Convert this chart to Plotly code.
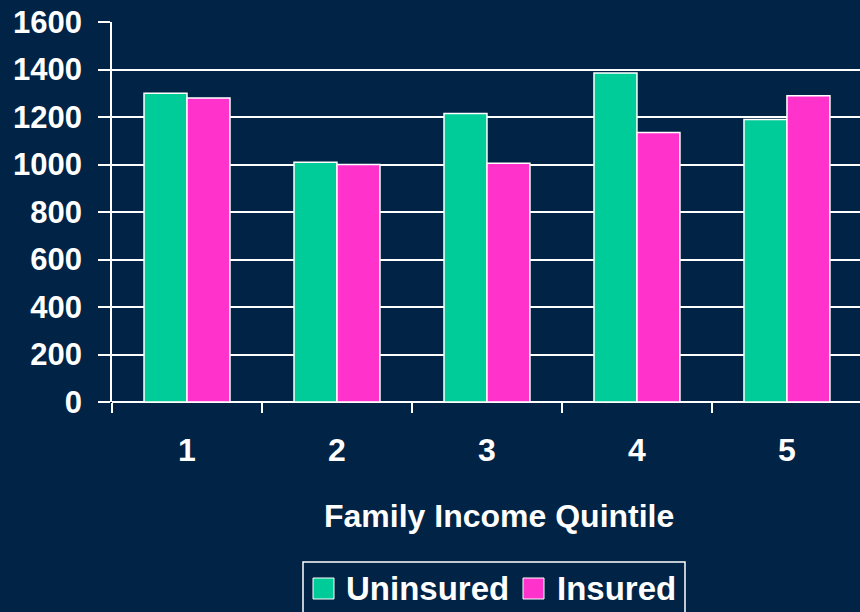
import plotly.graph_objects as go

categories = ["1", "2", "3", "4", "5"]
uninsured = [1300, 1010, 1215, 1385, 1190]
insured = [1280, 1000, 1005, 1135, 1290]
y_ticks = [0, 200, 400, 600, 800, 1000, 1200, 1400, 1600]
series_names = ["Uninsured", "Insured"]
series_colors = ["#00CC99", "#FF33CC"]

BG = "#012345"
FONT = "Liberation Sans, Arial, sans-serif"

# plot area in pixels: x 112..860, y 22..402
PL, PR, PT, PB = 112, 860, 22, 402
def px(x):
    return (x - PL) / (PR - PL)
def py(y):
    return (PB - y) / (PB - PT)

fig = go.Figure()
for name, vals, col in zip(series_names, [uninsured, insured], series_colors):
    fig.add_trace(go.Bar(name=name, x=categories, y=vals,
                         marker=dict(color=col, line=dict(color="white", width=1.5))))

shapes = [dict(type="rect", xref="paper", yref="paper", x0=px(303), x1=px(685), y0=py(640), y1=py(562),
               line=dict(color="white", width=1.5), fillcolor=BG, layer="above")]
annotations = [dict(text="Family Income Quintile", x=px(499), y=py(516), xref="paper", yref="paper",
                    xanchor="center", yanchor="middle", showarrow=False,
                    font=dict(size=32, family=FONT, color="white", weight="bold"))]
legend_sq_x = [313, 523]
legend_txt_x = [344, 555]
for name, col, sx, tx in zip(series_names, series_colors, legend_sq_x, legend_txt_x):
    shapes.append(dict(type="rect", xref="paper", yref="paper", x0=px(sx), x1=px(sx + 21),
                       y0=py(599), y1=py(578), line=dict(color="white", width=1), fillcolor=col,
                       layer="above"))
    annotations.append(dict(text=name, x=px(tx), y=py(588), xref="paper", yref="paper",
                            xanchor="left", yanchor="middle", showarrow=False,
                            font=dict(size=33, family=FONT, color="white", weight="bold")))

fig.update_layout(
    width=860, height=612,
    paper_bgcolor=BG, plot_bgcolor=BG,
    margin=dict(l=PL, r=860 - PR, t=PT, b=612 - PB, pad=0),
    barmode="group", bargap=0.427, bargroupgap=0,
    font=dict(family=FONT, color="white", size=32, weight="bold"),
    showlegend=False,
    xaxis=dict(type="category", range=[-0.5, 4.487], tickson="boundaries",
               ticks="outside", ticklen=10, tickwidth=1.5, tickcolor="white",
               showline=False, showgrid=False, ticklabelstandoff=26,
               tickfont=dict(size=32, family=FONT, color="white", weight="bold")),
    yaxis=dict(range=[0, 1600], tickvals=y_ticks, showgrid=True, gridcolor="white", gridwidth=1.5,
               ticks="outside", ticklen=12, tickwidth=1.5, tickcolor="white",
               showline=True, linecolor="white", linewidth=1.5, ticklabelstandoff=10,
               zeroline=True, zerolinecolor="white", zerolinewidth=1.5,
               tickfont=dict(size=31, family=FONT, color="white", weight="bold")),
    shapes=shapes,
    annotations=annotations,
)

fig.write_html("out.html", config={"displayModeBar": False},
               post_script="document.body.style.margin='0';document.body.style.overflow='hidden';")
